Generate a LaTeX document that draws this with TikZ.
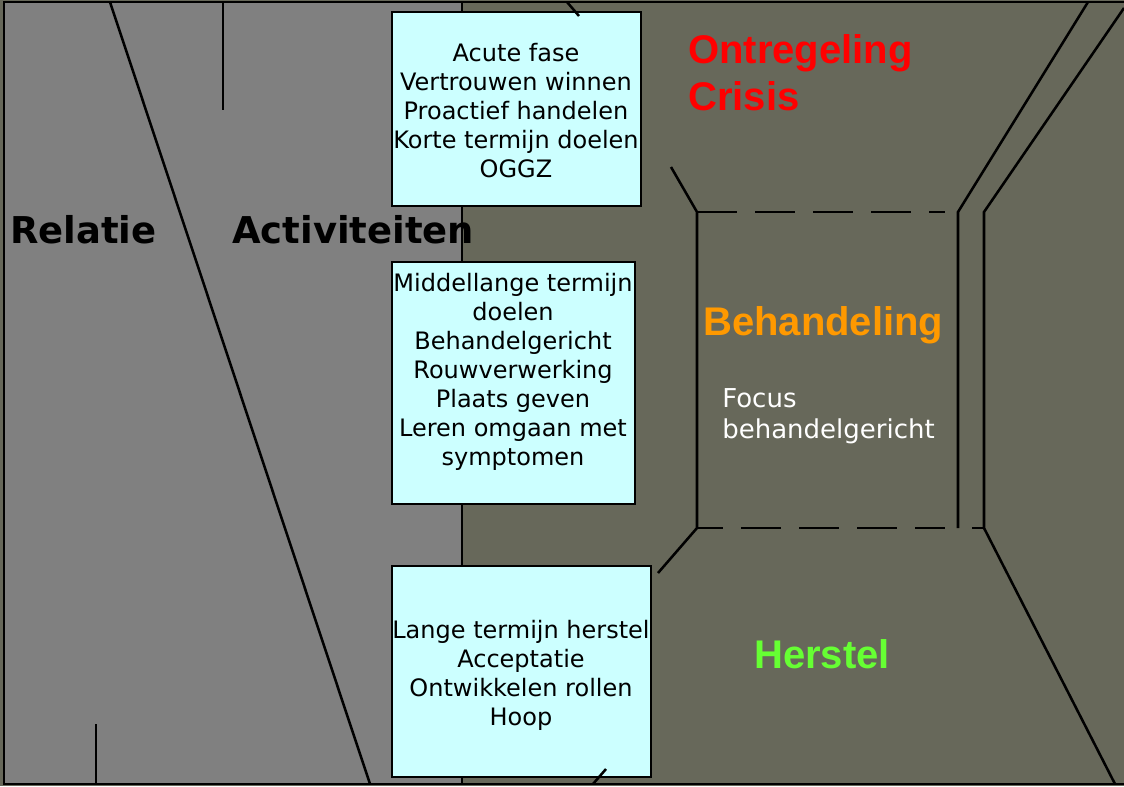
\documentclass[tikz,border=0pt]{standalone}
\usepackage{fontspec}
\newfontfamily\dvs{DejaVu Sans}
\newfontfamily\libs{Liberation Sans}
\usetikzlibrary{fit}
\definecolor{bgolive}{RGB}{103,104,90}
\definecolor{leftgray}{RGB}{128,128,128}
\definecolor{boxcyan}{RGB}{204,255,255}
\definecolor{hdorange}{RGB}{255,153,0}
\definecolor{hdgreen}{RGB}{102,255,51}
\begin{document}
\begin{tikzpicture}[x=0.75pt,y=-0.75pt,
  ln/.style={draw=black,line width=1.9pt},
  dashln/.style={draw=black,line width=1.9pt,dash pattern=on 30pt off 13.5pt},
  box/.style={draw=black,line width=1.9pt,fill=boxcyan,inner sep=0pt},
  boxtxt/.style={anchor=base,inner sep=0pt,font=\dvs\fontsize{18}{21.75}\selectfont},
  sidehd/.style={anchor=base west,inner sep=0pt,font=\dvs\bfseries\fontsize{27.7}{33}\selectfont},
  hd/.style={anchor=base west,inner sep=0pt,font=\libs\bfseries\fontsize{30}{35.25}\selectfont}]
\useasboundingbox (0,0) rectangle (1124,786);
\fill[bgolive] (0,0) rectangle (1124,786);
% left grey panel
\filldraw[fill=leftgray,line width=1.9pt] (4,2) rectangle (462,784);
\draw[ln] (4,2) -- (1124,2);
\draw[ln] (4,784) -- (1124,784);
\draw[ln] (110,2) -- (370,784);
\draw[ln] (223,2) -- (223,110);
\draw[ln] (96,724) -- (96,784);
% corridor
\draw[ln] (671,167) -- (697,212) -- (697,528) -- (658,573);
\draw[dashln] (697,212) -- (945,212);
\draw[dashln,dash phase=10.5pt] (697,528) -- (945,528);
\draw[ln] (972,528) -- (984,528);
\draw[ln] (958,528) -- (958,212) -- (1088,2);
\draw[ln] (1124,8) -- (984,212) -- (984,528) -- (1115,784);
% side headings
\node[sidehd] (relatie) at (10,243) {Relatie};
\node[sidehd] (activ) at (232,243) {Activiteiten};
% boxes
\node[box,fit={(392,12) (641,206)}] (b1) {};
\node[box,fit={(392,262) (635,504)}] (b2) {};
\node[box,fit={(392,566) (651,777)}] (b3) {};
\draw[ln] (567,2) -- (579,16);
\draw[ln] (593,784) -- (606,769);
\node[boxtxt] (t1) at (516,61) {\begin{tabular}[t]{@{}c@{}}Acute fase\\Vertrouwen winnen\\Proactief handelen\\Korte termijn doelen\\OGGZ\end{tabular}};
\node[boxtxt] (t2) at (513,291) {\begin{tabular}[t]{@{}c@{}}Middellange termijn\\doelen\\Behandelgericht\\Rouwverwerking\\Plaats geven\\Leren omgaan met\\symptomen\end{tabular}};
\node[boxtxt] (t3) at (521,638) {\begin{tabular}[t]{@{}c@{}}Lange termijn herstel\\Acceptatie\\Ontwikkelen rollen\\Hoop\end{tabular}};
% phase headings
\node[hd,text=red] (ontr) at (688,63) {\begin{tabular}[t]{@{}l@{}}Ontregeling\\Crisis\end{tabular}};
\node[hd,text=hdorange] (beh) at (703,335) {Behandeling};
\node[hd,text=hdgreen] (herst) at (754,668) {Herstel};
\node[anchor=base west,inner sep=0pt,text=white,font=\dvs\fontsize{19.5}{23.25}\selectfont] (focus) at (722,407) {\begin{tabular}[t]{@{}l@{}}Focus\\behandelgericht\end{tabular}};
\end{tikzpicture}
\end{document}
